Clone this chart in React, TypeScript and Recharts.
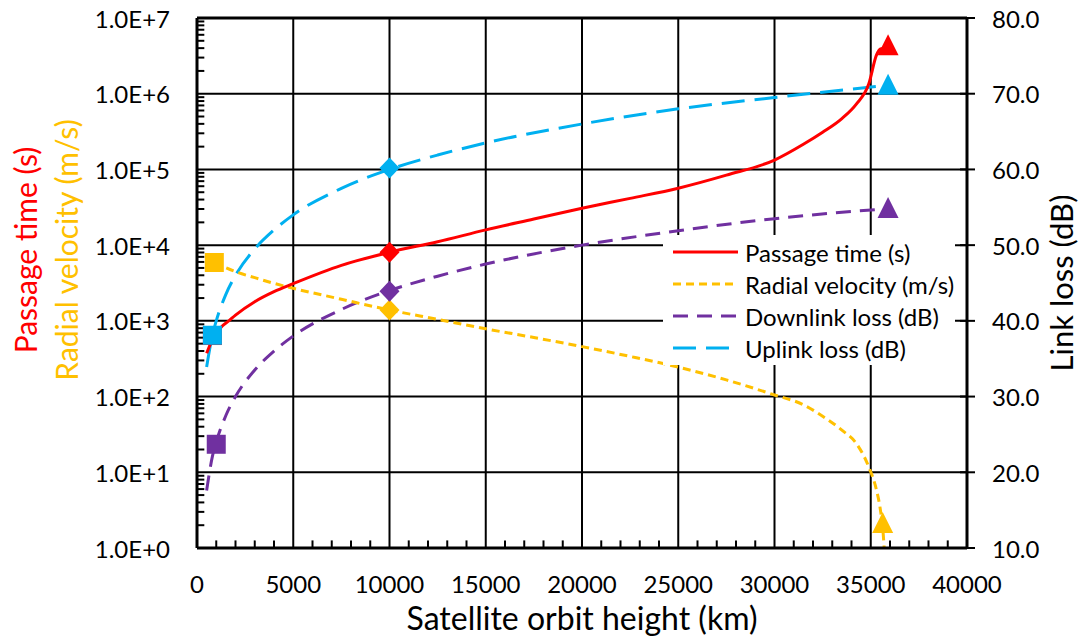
import React from "react";
import { ComposedChart, Line, Scatter, XAxis, YAxis, ReferenceLine } from "recharts";

const FONT = "Lato, 'Open Sans', sans-serif";

// orbit height ticks (km)
const xTicks = [0, 5000, 10000, 15000, 20000, 25000, 30000, 35000, 40000];
const xGrid = [5000, 10000, 15000, 20000, 25000, 30000, 35000];
const xMinor = Array.from({ length: 39 }, (_, i) => (i + 1) * 1000).filter((h) => h % 5000 !== 0);

// left log axis ticks
const logTicks = [1, 10, 100, 1000, 10000, 100000, 1000000, 10000000];
const logGrid = [10, 100, 1000, 10000, 100000, 1000000];
const logMinor: number[] = [];
for (let e = 0; e < 7; e++) for (let m = 2; m < 10; m++) logMinor.push(m * Math.pow(10, e));
const dbTicks = [10, 20, 30, 40, 50, 60, 70, 80];

// passage time (s)
const passageH = [500, 800, 1000, 1300, 1600, 2000, 3000, 4000, 5000, 7500, 10000, 12500, 15000, 17500, 20000, 22500, 25000, 27500, 30000, 31500, 32500, 33500, 34250, 34900, 35300, 35500, 35786];
const passageTime = [373, 560, 680, 850, 975, 1190, 1790, 2430, 3100, 5400, 8050, 11100, 15900, 22100, 30700, 41500, 56500, 84000, 133000, 215000, 310000, 470000, 730000, 1350000, 3250000, 3900000, 4000000];

// radial velocity (m/s)
const radialH = [900, 2000, 3000, 4000, 5000, 7500, 10000, 12500, 15000, 17500, 20000, 22500, 25000, 27500, 30000, 31500, 32500, 33500, 34250, 34900, 35300, 35500, 35650, 35786];
const radialVel = [5900, 4460, 3720, 3130, 2690, 1930, 1390, 1047, 785, 603, 457, 339, 245, 166, 105, 78, 55, 36, 24, 11.7, 5.8, 3.2, 1.5, 0.4];

// link losses (dB)
const lossH = [500, 800, 1000, 1500, 2000, 3000, 4000, 5000, 7500, 10000, 12500, 15000, 20000, 25000, 30000, 35786];
const uplinkLoss = [33.9, 38.1, 40.0, 43.5, 46.0, 49.5, 52.0, 54.0, 57.5, 60.0, 61.9, 63.5, 66.0, 68.0, 69.5, 71.1];
const downlinkLoss = [17.6, 22.1, 24.0, 27.5, 30.0, 33.5, 36.0, 38.0, 41.5, 44.0, 45.9, 47.5, 50.0, 51.9, 53.5, 54.8];

// LEO / MEO / GEO markers
const markShapes = ["square", "diamond", "triangle"];
const passageMarkH = [800, 10000, 35900];
const passageMarkV = [640, 8050, 4000000];
const radialMarkH = [900, 10000, 35620];
const radialMarkV = [5900, 1390, 1.95];
const downMarkH = [1000, 10000, 35900];
const downMarkV = [23.7, 43.9, 54.5];
const upMarkH = [800, 10000, 35900];
const upMarkV = [38.1, 60.2, 70.8];

const toRows = (hs: number[], vs: number[]) => hs.map((h, i) => ({ h, v: vs[i] }));
const toMarks = (hs: number[], vs: number[]) =>
    hs.map((h, i) => ({ h, v: vs[i], shape: markShapes[i] }));

const RED = "#FF0000";
const GOLD = "#FFC000";
const PURPLE = "#7030A0";
const BLUE = "#00B0F0";

const legendItems = [
    { label: "Passage time (s)", color: RED, dash: "" },
    { label: "Radial velocity (m/s)", color: GOLD, dash: "8 5" },
    { label: "Downlink loss (dB)", color: PURPLE, dash: "15 9" },
    { label: "Uplink loss (dB)", color: BLUE, dash: "23 10" },
];

function Marker(props: any) {
    const { cx, cy, payload, color } = props;
    if (cx == null || cy == null) return null;
    if (payload.shape === "square") {
        return <rect x={cx - 9.5} y={cy - 9.5} width={19} height={19} fill={color} />;
    }
    if (payload.shape === "diamond") {
        return (
            <polygon
                points={`${cx},${cy - 10.5} ${cx + 10},${cy} ${cx},${cy + 10.5} ${cx - 10},${cy}`}
                fill={color}
            />
        );
    }
    return (
        <polygon
            points={`${cx},${cy - 14} ${cx + 10.5},${cy + 7} ${cx - 10.5},${cy + 7}`}
            fill={color}
        />
    );
}

function LeftTick(props: any) {
    const { x, y, payload } = props;
    const e = Math.round(Math.log10(payload.value));
    return (
        <text x={x - 27} y={y} textAnchor="end" dominantBaseline="central"
            fontFamily={FONT} fontSize={24} fill="#000">
            {`1.0E+${e}`}
        </text>
    );
}

function RightTick(props: any) {
    const { x, y, payload } = props;
    return (
        <g>
            <line x1={x - 7} x2={x + 8} y1={y} y2={y} stroke="#000" strokeWidth={2} />
            <text x={x + 25} y={y} textAnchor="start" dominantBaseline="central"
                fontFamily={FONT} fontSize={24} fill="#000">
                {payload.value.toFixed(1)}
            </text>
        </g>
    );
}

function BottomTick(props: any) {
    const { x, y, payload } = props;
    return (
        <text x={x} y={y + 35} textAnchor="middle" dominantBaseline="central"
            fontFamily={FONT} fontSize={24} fill="#000">
            {payload.value}
        </text>
    );
}

export default function App() {
    return (
        <div style={{ position: "absolute", left: 0, top: 0, width: 1091, height: 638, background: "#fff" }}>
            <ComposedChart width={1091} height={638} margin={{ top: 18, right: 0, bottom: 0, left: 0 }}>
                <XAxis
                    xAxisId="x"
                    dataKey="h"
                    type="number"
                    domain={[0, 40000]}
                    ticks={xTicks}
                    interval={0}
                    height={90}
                    tickSize={0}
                    tickMargin={0}
                    tickLine={false}
                    axisLine={{ stroke: "#000", strokeWidth: 3 }}
                    tick={(p: any) => <BottomTick {...p} />}
                    allowDataOverflow
                />
                <YAxis
                    yAxisId="left"
                    type="number"
                    scale="log"
                    domain={[1, 1e7]}
                    ticks={logTicks}
                    interval={0}
                    width={197}
                    tickSize={0}
                    tickMargin={0}
                    tickLine={false}
                    axisLine={{ stroke: "#000", strokeWidth: 3 }}
                    tick={(p: any) => <LeftTick {...p} />}
                    allowDataOverflow
                    label={() => (
                        <g fontFamily={FONT} fontSize={30} textAnchor="middle">
                            <text x={37} y={250} transform="rotate(-90 37 250)" fill={RED}>Passage time (s)</text>
                            <text x={78} y={250} transform="rotate(-90 78 250)" fill={GOLD}>Radial velocity (m/s)</text>
                        </g>
                    )}
                />
                <YAxis
                    yAxisId="right"
                    orientation="right"
                    type="number"
                    domain={[10, 80]}
                    ticks={dbTicks}
                    interval={0}
                    width={124}
                    tickSize={0}
                    tickMargin={0}
                    tickLine={false}
                    axisLine={{ stroke: "#000", strokeWidth: 3 }}
                    tick={(p: any) => <RightTick {...p} />}
                    allowDataOverflow
                    label={() => (
                        <text x={1073} y={283} transform="rotate(-90 1073 283)" textAnchor="middle"
                            fontFamily={FONT} fontSize={31} fill="#000">
                            Link loss (dB)
                        </text>
                    )}
                />

                {xGrid.map((g) => (
                    <ReferenceLine key={`vx${g}`} x={g} xAxisId="x" yAxisId="left" stroke="#000" strokeWidth={2} />
                ))}
                {logGrid.map((g) => (
                    <ReferenceLine key={`hy${g}`} y={g} xAxisId="x" yAxisId="left" stroke="#000" strokeWidth={2} />
                ))}
                <ReferenceLine y={1e7} xAxisId="x" yAxisId="left" stroke="#000" strokeWidth={3} />

                {/* short inner minor ticks along the bottom and left axes */}
                {xMinor.map((h) => (
                    <ReferenceLine key={`mx${h}`} xAxisId="x" yAxisId="left" ifOverflow="visible"
                        segment={[{ x: h, y: 1 }, { x: h, y: 1.26 }]} stroke="#000" strokeWidth={2} />
                ))}
                {logMinor.map((v) => (
                    <ReferenceLine key={`my${v}`} xAxisId="x" yAxisId="left" ifOverflow="visible"
                        segment={[{ x: 0, y: v }, { x: 380, y: v }]} stroke="#000" strokeWidth={2} />
                ))}

                <Line data={toRows(lossH, uplinkLoss)} dataKey="v" xAxisId="x" yAxisId="right" type="monotone"
                    stroke={BLUE} strokeWidth={3} strokeDasharray="23 10" dot={false} isAnimationActive={false} />
                <Line data={toRows(lossH, downlinkLoss)} dataKey="v" xAxisId="x" yAxisId="right" type="monotone"
                    stroke={PURPLE} strokeWidth={3} strokeDasharray="15 9" dot={false} isAnimationActive={false} />
                <Line data={toRows(radialH, radialVel)} dataKey="v" xAxisId="x" yAxisId="left" type="monotone"
                    stroke={GOLD} strokeWidth={3} strokeDasharray="8 5" dot={false} isAnimationActive={false} />
                <Line data={toRows(passageH, passageTime)} dataKey="v" xAxisId="x" yAxisId="left" type="monotone"
                    stroke={RED} strokeWidth={3} dot={false} isAnimationActive={false} />

                <Scatter data={toMarks(passageMarkH, passageMarkV)} dataKey="v" xAxisId="x" yAxisId="left"
                    shape={(p: any) => <Marker {...p} color={RED} />} isAnimationActive={false} />
                <Scatter data={toMarks(radialMarkH, radialMarkV)} dataKey="v" xAxisId="x" yAxisId="left"
                    shape={(p: any) => <Marker {...p} color={GOLD} />} isAnimationActive={false} />
                <Scatter data={toMarks(downMarkH, downMarkV)} dataKey="v" xAxisId="x" yAxisId="right"
                    shape={(p: any) => <Marker {...p} color={PURPLE} />} isAnimationActive={false} />
                <Scatter data={toMarks(upMarkH, upMarkV)} dataKey="v" xAxisId="x" yAxisId="right"
                    shape={(p: any) => <Marker {...p} color={BLUE} />} isAnimationActive={false} />
            </ComposedChart>

            <div
                style={{
                    position: "absolute",
                    left: 663,
                    top: 235,
                    width: 292,
                    height: 130,
                    background: "#fff",
                    fontFamily: FONT,
                    fontSize: 24,
                    color: "#000",
                    paddingTop: 1,
                    boxSizing: "border-box",
                }}
            >
                {legendItems.map((item) => (
                    <div key={item.label} style={{ display: "flex", alignItems: "center", height: 32 }}>
                        <svg width={82} height={32} style={{ flex: "none" }}>
                            <line x1={10} x2={75} y1={16} y2={16} stroke={item.color} strokeWidth={3}
                                strokeDasharray={item.dash || undefined} />
                        </svg>
                        <span style={{ whiteSpace: "nowrap" }}>{item.label}</span>
                    </div>
                ))}
            </div>

            <div
                style={{
                    position: "absolute",
                    left: 197,
                    width: 770,
                    top: 598,
                    textAlign: "center",
                    fontFamily: FONT,
                    fontSize: 32,
                    color: "#000",
                }}
            >
                Satellite orbit height (km)
            </div>
        </div>
    );
}
